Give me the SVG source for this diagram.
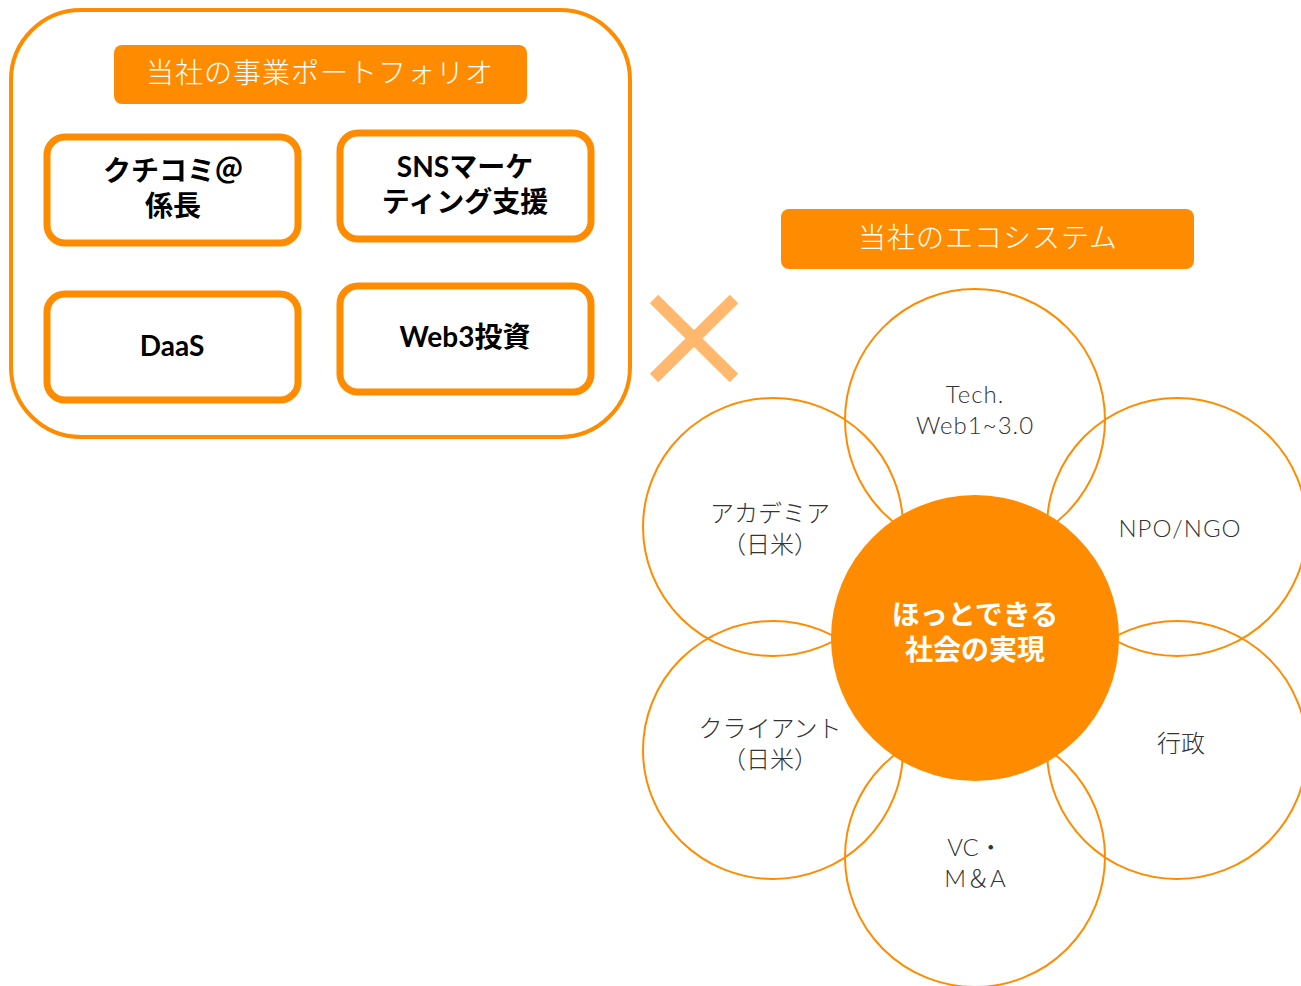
<svg xmlns="http://www.w3.org/2000/svg" width="1301" height="986" viewBox="0 0 1301 986">
<style>
.lbl{fill:#FF8C00}
.lbltxt{font-family:"Noto Sans CJK JP","Noto Sans",sans-serif;font-size:28px;font-weight:300;fill:#fff;text-anchor:middle;letter-spacing:1px}
.box{fill:#fff;stroke:#FF8C00;stroke-width:7}
.boxtxt{font-family:Lato,"Noto Sans CJK JP",sans-serif;font-size:28px;font-weight:700;fill:#000;text-anchor:middle}
.petal{fill:none;stroke:#FF8C00;stroke-width:2}
.ptxt{font-family:Lato,"Noto Sans CJK JP",sans-serif;font-size:24px;font-weight:300;fill:#333;text-anchor:middle}
.ctxt{font-family:Lato,"Noto Sans CJK JP",sans-serif;font-size:28px;font-weight:700;fill:#fff;text-anchor:middle}
</style>
<rect width="1301" height="986" fill="#fff"/>
<g id="portfolio">
<rect x="11" y="10" width="619" height="427" rx="70" ry="70" fill="none" stroke="#FF8C00" stroke-width="4"/>
<rect class="lbl" x="114" y="45" width="413" height="59" rx="8"/>
<text class="lbltxt" x="320" y="83">当社の事業ポートフォリオ</text>
</g>
<g id="kuchikomi">
<rect class="box" x="47" y="137" width="251" height="106" rx="18"/>
<text class="boxtxt"><tspan x="173" y="181">クチコミ＠</tspan><tspan x="173" y="216">係長</tspan></text>
</g>
<g id="sns">
<rect class="box" x="340" y="133" width="251" height="106" rx="18"/>
<text class="boxtxt"><tspan x="465" y="177">SNSマーケ</tspan><tspan x="465" y="212">ティング支援</tspan></text>
</g>
<g id="daas">
<rect class="box" x="47" y="294" width="251" height="106" rx="18"/>
<text class="boxtxt" x="172" y="356">DaaS</text>
</g>
<g id="web3">
<rect class="box" x="340" y="286" width="251" height="106" rx="18"/>
<text class="boxtxt" x="465" y="347">Web3投資</text>
</g>
<g id="cross">
<line x1="654" y1="299" x2="734" y2="378" stroke="#FFB86E" stroke-width="12"/>
<line x1="734" y1="299" x2="654" y2="378" stroke="#FFB86E" stroke-width="12"/>
</g>
<g id="ecosystem-label">
<rect class="lbl" x="781" y="209" width="413" height="60" rx="8"/>
<text class="lbltxt" x="988" y="248">当社のエコシステム</text>
</g>
<g id="connectors"></g>
<g id="tech">
<ellipse class="petal" cx="975" cy="420" rx="130" ry="131"/>
<text class="ptxt" letter-spacing="1"><tspan x="975" y="403">Tech.</tspan><tspan x="975" y="434">Web1~3.0</tspan></text>
</g>
<g id="academia">
<ellipse class="petal" cx="773" cy="527" rx="130" ry="129"/>
<text class="ptxt"><tspan x="770" y="522">アカデミア</tspan><tspan x="770" y="553">（日米）</tspan></text>
</g>
<g id="npo">
<ellipse class="petal" cx="1177" cy="527" rx="130" ry="129"/>
<text class="ptxt" x="1180" y="537" letter-spacing="1">NPO/NGO</text>
</g>
<g id="client">
<ellipse class="petal" cx="773" cy="750" rx="130" ry="129"/>
<text class="ptxt"><tspan x="770" y="737">クライアント</tspan><tspan x="770" y="768">（日米）</tspan></text>
</g>
<g id="gyosei">
<ellipse class="petal" cx="1177" cy="750" rx="130" ry="129"/>
<text class="ptxt" x="1181" y="752">行政</text>
</g>
<g id="vc">
<ellipse class="petal" cx="975" cy="857" rx="130" ry="130"/>
<text class="ptxt"><tspan x="975" y="856">VC・</tspan><tspan x="975" y="887">M＆A</tspan></text>
</g>
<g id="center">
<ellipse cx="975" cy="638" rx="144" ry="143" fill="#FF8C00"/>
<text class="ctxt"><tspan x="975" y="625">ほっとできる</tspan><tspan x="975" y="660">社会の実現</tspan></text>
</g>
</svg>
